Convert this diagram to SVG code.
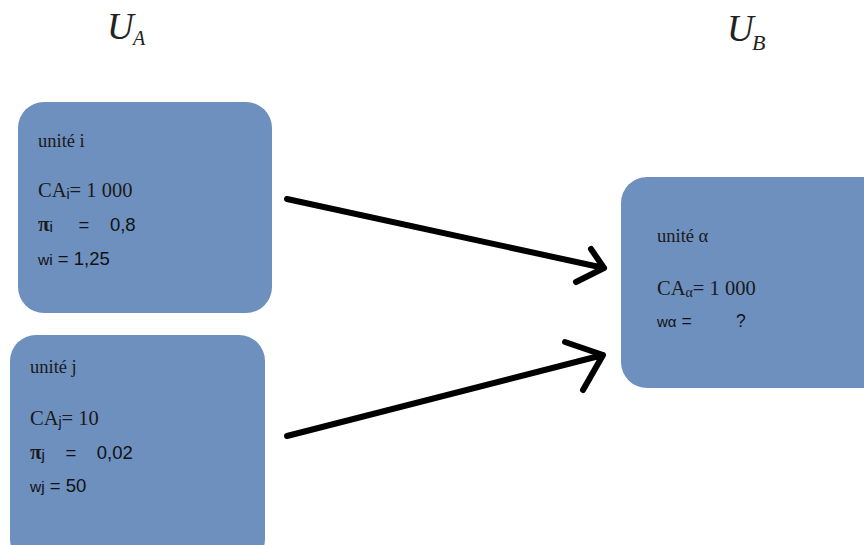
<svg xmlns="http://www.w3.org/2000/svg" width="864" height="545" viewBox="0 0 864 545">
<style>
.box{fill:#6e90be;}
.serif{font-family:"Liberation Serif","Times New Roman",serif;fill:#1a1a1a;}
.sans{font-family:"Liberation Sans",Arial,sans-serif;fill:#111;}
.arrow{fill:none;stroke:#000;stroke-width:6;stroke-linecap:round;stroke-linejoin:round;}
.title{font-family:"Liberation Serif","Times New Roman",serif;font-style:italic;fill:#222;}
</style>
<rect width="864" height="545" fill="#fff"/>
<g id="label-UA"><text class="title" x="107" y="39" font-size="37">U</text><text class="title" x="133" y="45" font-size="20">A</text></g>
<g id="label-UB"><text class="title" x="727" y="41" font-size="37">U</text><text class="title" x="752" y="50" font-size="22">B</text></g>
<g id="node-i">
<rect class="box" x="18" y="102" width="254" height="211" rx="26"/>
<text class="serif" x="38" y="147" font-size="18.5">unité i</text>
<text class="serif" x="38" y="197" font-size="20.5">CA<tspan class="sans" font-size="14" dy="2">i</tspan><tspan dy="-2">= 1 000</tspan></text>
<text class="sans" x="38" y="231" font-size="18.5"><tspan class="serif" font-weight="bold" font-size="21">π</tspan><tspan font-size="15" dy="1">i</tspan><tspan dy="-1" xml:space="preserve">     =    0,8</tspan></text>
<text class="sans" x="38" y="265" font-size="18.5"><tspan font-size="15.5">wi</tspan> = 1,25</text>
</g>
<g id="node-j">
<rect class="box" x="10" y="335" width="255" height="230" rx="26"/>
<text class="serif" x="30" y="373" font-size="18.5">unité j</text>
<text class="serif" x="30" y="425" font-size="20.5">CA<tspan class="sans" font-size="14" dy="2">j</tspan><tspan dy="-2">= 10</tspan></text>
<text class="sans" x="30" y="459" font-size="18.5"><tspan class="serif" font-weight="bold" font-size="21">π</tspan><tspan font-size="15" dy="1">j</tspan><tspan dy="-1" xml:space="preserve">    =    0,02</tspan></text>
<text class="sans" x="30" y="492" font-size="18.5"><tspan font-size="15.5">wj</tspan> = 50</text>
</g>
<g id="node-alpha">
<rect class="box" x="621" y="177" width="270" height="211" rx="26"/>
<text class="serif" x="657" y="242" font-size="18.5">unité α</text>
<text class="serif" x="657" y="295" font-size="20.5">CA<tspan font-size="14" dy="2">α</tspan><tspan dy="-2">= 1 000</tspan></text>
<text class="sans" x="657" y="327" font-size="17.5"><tspan font-size="15">wα</tspan> =</text>
<text class="sans" x="736" y="327" font-size="17.5">?</text>
</g>
<g id="connectors">
<path class="arrow" d="M287 199 L604 268 M591 249 L604 268 L576 282"/>
<path class="arrow" d="M287 436 L603 355 M565 342 L603 355 L583 390"/>
</g>
</svg>
